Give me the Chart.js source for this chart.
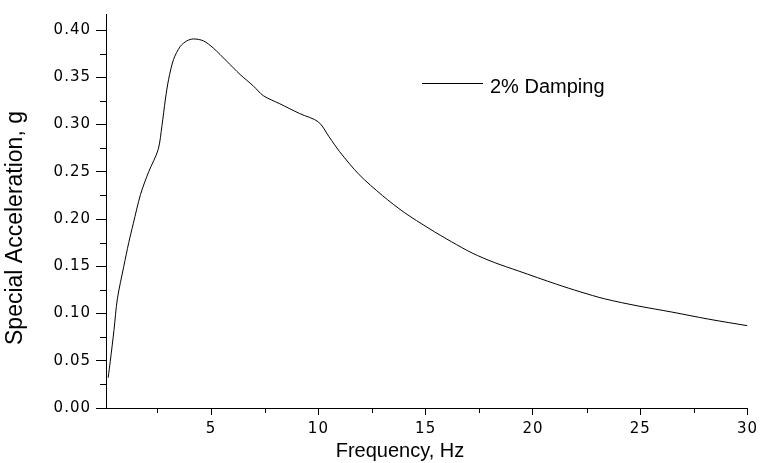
<!DOCTYPE html>
<html>
<head>
<meta charset="utf-8">
<script src="https://cdn.jsdelivr.net/npm/chart.js@4"></script>
<style>
  body { margin: 0; background: #fff; }
  #box { width: 762px; height: 463px; position: relative; }
</style>
</head>
<body>
<div id="box"><canvas id="myChart"></canvas></div>
<script>
// values
const freq = [0.2, 0.3, 0.47, 0.63, 0.93, 1.16, 1.37, 1.71, 2.09, 2.53, 2.71, 2.87, 3.02, 3.25, 3.56, 3.87, 4.18, 4.64, 5.1, 5.73, 6.35, 6.96, 7.43, 8.2, 9.13, 10.0, 10.5, 10.98, 11.9, 12.99, 14.0, 15.16, 16.2, 17.17, 18.2, 19.33, 21.1, 22.2, 23.35, 24.9, 26.44, 28.2, 30];
const accel = [0.032, 0.0496, 0.082, 0.1155, 0.150, 0.175, 0.195, 0.226, 0.250, 0.2734, 0.299, 0.327, 0.348, 0.369, 0.3826, 0.3886, 0.3906, 0.3886, 0.381, 0.367, 0.353, 0.341, 0.3306, 0.322, 0.3116, 0.3028, 0.287, 0.2716, 0.247, 0.2248, 0.207, 0.190, 0.176, 0.164, 0.154, 0.145, 0.131, 0.123, 0.1155, 0.108, 0.1017, 0.094, 0.0871];
const seriesName = '2% Damping';
const xTicks = [5, 10, 15, 20, 25, 30];
const yTicks = [0, 0.05, 0.10, 0.15, 0.20, 0.25, 0.30, 0.35, 0.40];
const xTitle = 'Frequency, Hz';
const yTitle = 'Special Acceleration, g';

const tickFont = { family: 'DejaVu Sans', size: 15 };

const points = freq.map((f, i) => ({ x: f, y: accel[i] }));

function midpoints(arr, first) {
    let out = [];
    let prev = first;
    for (let i = 0; i < arr.length; i++) {
        if (prev !== null) out.push((prev + arr[i]) / 2);
        prev = arr[i];
    }
    return out;
}

const extras = {
    id: 'extras',
    beforeDraw(chart) {
        chart.ctx.letterSpacing = '1px';
    },
    beforeDatasetsDraw(chart) {
        chart.ctx.letterSpacing = '0px';
    },
    afterDraw(chart) {
        const ctx = chart.ctx;
        const xs = chart.scales.x, ys = chart.scales.y;
        ctx.save();
        ctx.letterSpacing = '0px';
        ctx.strokeStyle = '#000';
        ctx.lineWidth = 1;
        // minor ticks
        ctx.beginPath();
        midpoints(xTicks, 0).forEach(v => {
            const px = Math.round(xs.getPixelForValue(v)) + 0.5;
            ctx.moveTo(px, xs.top);
            ctx.lineTo(px, xs.top + 5);
        });
        midpoints(yTicks, null).forEach(v => {
            const py = Math.round(ys.getPixelForValue(v)) + 0.5;
            ctx.moveTo(ys.right, py);
            ctx.lineTo(ys.right - 6, py);
        });
        ctx.stroke();

        // legend
        ctx.beginPath();
        ctx.moveTo(422, 83.5);
        ctx.lineTo(483, 83.5);
        ctx.stroke();
        ctx.fillStyle = '#000';
        ctx.font = '20px "Liberation Sans", Arial, sans-serif';
        ctx.textAlign = 'left';
        ctx.textBaseline = 'alphabetic';
        ctx.fillText(seriesName, 490, 93);

        // axis titles
        ctx.textAlign = 'center';
        ctx.font = '20px "Liberation Sans", Arial, sans-serif';
        ctx.fillText(xTitle, 400, 457);
        ctx.translate(22, 228);
        ctx.rotate(-Math.PI / 2);
        ctx.font = '23px "Liberation Sans", Arial, sans-serif';
        ctx.fillText(yTitle, 0, 0);
        ctx.restore();
    }
};

const config = {
    type: 'line',
    data: {
        datasets: [{
            label: seriesName,
            data: points,
            borderColor: '#000',
            borderWidth: 1,
            pointRadius: 0,
            fill: false,
            tension: 0.3
        }]
    },
    options: {
        responsive: true,
        maintainAspectRatio: false,
        animation: false,
        layout: { padding: { top: 7, right: 12, bottom: 0, left: 0 } },
        plugins: {
            legend: { display: false },
            tooltip: { enabled: false }
        },
        scales: {
            x: {
                type: 'linear',
                min: 0.1,
                max: 30,
                afterBuildTicks: s => { s.ticks = xTicks.map(v => ({ value: v })); },
                afterFit: s => { s.height = 55; },
                grid: { drawOnChartArea: false, tickLength: 7, tickColor: '#000' },
                border: { color: '#000', width: 1 },
                ticks: { color: '#000', font: tickFont, padding: 5, maxRotation: 0, autoSkip: false }
            },
            y: {
                min: 0,
                max: 0.417,
                afterBuildTicks: s => { s.ticks = yTicks.map(v => ({ value: v })); },
                afterFit: s => { s.width = 106; },
                grid: { drawOnChartArea: false, tickLength: 10, tickColor: '#000' },
                border: { color: '#000', width: 1 },
                ticks: { color: '#000', font: tickFont, padding: 5, callback: v => v.toFixed(2) }
            }
        }
    },
    plugins: [extras]
};

let myChart = new Chart(document.getElementById('myChart'), config);
</script>
</body>
</html>
